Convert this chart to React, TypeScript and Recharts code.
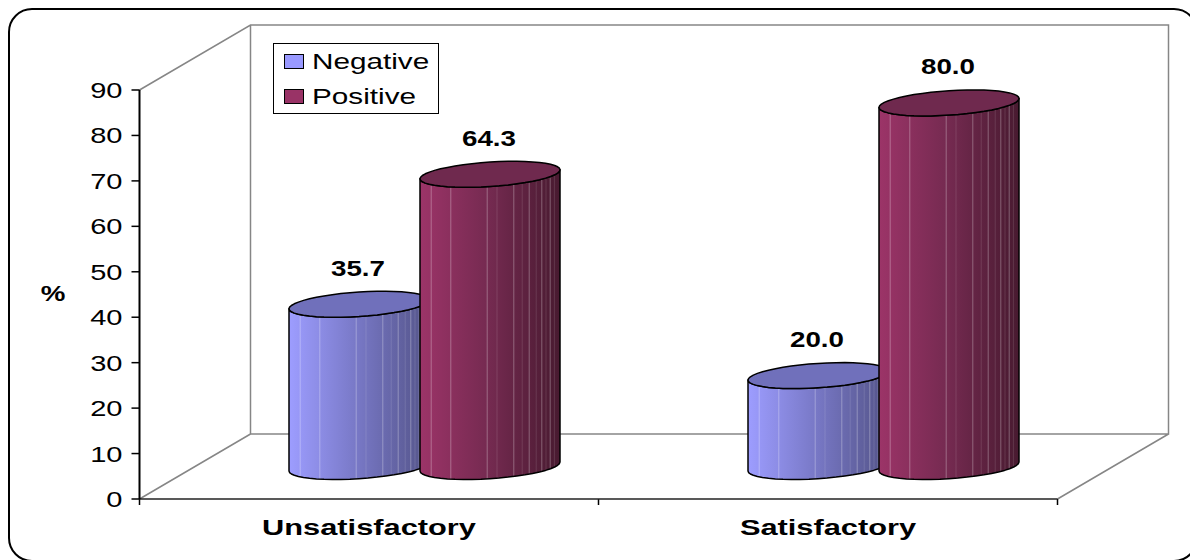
import React from 'react'
import { BarChart, Bar, XAxis, YAxis, Legend, LabelList } from 'recharts'

const categories = ['Unsatisfactory', 'Satisfactory']
const negative = [35.7, 20.0]
const positive = [64.3, 80.0]
const yTicks = [0, 10, 20, 30, 40, 50, 60, 70, 80, 90]
// light seams on the cylinder body, as fraction of its width
const seams = [0.08, 0.22, 0.48, 0.55, 0.67, 0.73, 0.78, 0.83, 0.87, 0.9, 0.93, 0.96]

const data = categories.map((name, i) => ({ name, Negative: negative[i], Positive: positive[i] }))

const W = 1190
const H = 560
const LEFT = 139.5
const RIGHT = 1057.5
const TOP = 90
const BOTTOM = 499
const DEPTH_X = 111
const DEPTH_Y = 65
const FONT = '"Liberation Sans", Arial, sans-serif'

function Stretched({ x, y, sx = 1.32, size = 22, bold = false, anchor = 'middle', children }: any) {
  return (
    <text
      transform={`translate(${x} ${y}) scale(${sx} 1)`}
      textAnchor={anchor}
      fontFamily={FONT}
      fontSize={size}
      fontWeight={bold ? 700 : 400}
      fill="#000"
    >
      {children}
    </text>
  )
}

function Walls() {
  const bx = LEFT + DEPTH_X
  const rx = RIGHT + DEPTH_X
  const ty = TOP - DEPTH_Y
  const by = BOTTOM - DEPTH_Y
  const mid = (LEFT + RIGHT) / 2
  return (
    <g fill="none">
      <path
        d={`M${LEFT} ${TOP}L${bx} ${ty}H${rx}V${by}H${bx}V${ty}M${LEFT} ${BOTTOM}L${bx} ${by}M${RIGHT} ${BOTTOM}L${rx} ${by}`}
        stroke="#868686"
        strokeWidth={1.5}
      />
      <path d={`M${LEFT} ${BOTTOM}V${BOTTOM + 6}M${mid} ${BOTTOM}V${BOTTOM + 6}M${RIGHT} ${BOTTOM}V${BOTTOM + 6}`} stroke="#000" strokeWidth={1.5} />
    </g>
  )
}

function Cylinder({ x, y, width, height, gradient, top }: any) {
  const a = width / 2
  const cx = x + a + DEPTH_X / 2
  const topY = y - DEPTH_Y / 2
  const baseY = y + height - DEPTH_Y / 2
  const k = 4.5
  const b = 12.2
  const pt = (t: number, cy: number) => [cx - a * Math.cos(t), cy + k * Math.cos(t) + b * Math.sin(t)]
  const steps = 24
  const angles = Array.from({ length: steps + 1 }, (_, i) => (i / steps) * Math.PI)
  const front = (cy: number) => angles.map((t) => pt(t, cy))
  const back = angles.map((t) => pt(t + Math.PI, topY))
  const line = (pts: number[][]) => pts.map((p) => `${p[0].toFixed(1)} ${p[1].toFixed(1)}`).join('L')
  const body = `M${line(front(topY))}L${line(front(baseY).reverse())}Z`
  const cap = `M${line(front(topY))}L${line(back)}Z`
  return (
    <g>
      <path d={body} fill={`url(#${gradient})`} />
      {seams.map((f, i) => {
        const c = 1 - 2 * f
        const t = Math.acos(c)
        const p = pt(t, topY)
        const q = pt(t, baseY)
        return <line key={f} x1={p[0]} y1={p[1]} x2={q[0]} y2={q[1]} stroke="#fff" strokeOpacity={i % 2 === 0 || i < 3 ? 0.3 : 0.12} strokeWidth={1} />
      })}
      <path d={body} fill="none" stroke="#000" strokeWidth={1.5} strokeLinejoin="round" />
      <path d={cap} fill={top} stroke="#000" strokeWidth={1.5} strokeLinejoin="round" />
    </g>
  )
}

function ValueLabel({ x, y, width, value }: any) {
  return (
    <Stretched x={x + width / 2 + DEPTH_X / 2 - 1} y={y - DEPTH_Y / 2 - 28.5} sx={1.26} bold>
      {Number(value).toFixed(1)}
    </Stretched>
  )
}

function YTick({ x, y, payload }: any) {
  return <Stretched x={x - 7} y={y + 8} anchor="end">{payload.value}</Stretched>
}

function XTick({ x, payload }: any) {
  return <Stretched x={x} y={BOTTOM + 36} sx={1.4} bold>{payload.value}</Stretched>
}

function LegendBox() {
  const row = (label: string, color: string) => (
    <div key={label} style={{ display: 'flex', alignItems: 'center', height: 35 }}>
      <span style={{ width: 18, height: 13, background: color, border: '1px solid #000', marginLeft: 10, boxSizing: 'content-box' }} />
      <span style={{ marginLeft: 8, fontFamily: FONT, fontSize: 22, color: '#000', transform: 'scaleX(1.35)', transformOrigin: 'left center', whiteSpace: 'nowrap' }}>{label}</span>
    </div>
  )
  return (
    <div style={{ width: 164, height: 69, border: '1.5px solid #000', background: '#fff', boxSizing: 'content-box' }}>
      {row('Negative', '#9999FF')}
      {row('Positive', '#993366')}
    </div>
  )
}

export default function App() {
  return (
    <div style={{ position: 'fixed', left: 0, top: 0, width: W, height: H, overflow: 'hidden', background: '#fff' }}>
      <div style={{ position: 'absolute', left: 8, top: 8, width: 1190, height: 554, border: '2px solid #000', borderRadius: 24, boxSizing: 'border-box' }} />
      <div style={{ position: 'absolute', left: 0, top: 0 }}>
        <BarChart
          width={W}
          height={H}
          data={data}
          barSize={140}
          barGap={-9}
          barCategoryGap={0}
          margin={{ left: LEFT - 60, right: W - RIGHT, top: TOP, bottom: H - BOTTOM - 1 }}
        >
          <defs>
            <linearGradient id="negBody" x1="0" y1="0" x2="1" y2="0">
              <stop offset="0" stopColor="#9D9DFF" />
              <stop offset="0.5" stopColor="#7777C4" />
              <stop offset="1" stopColor="#535388" />
            </linearGradient>
            <linearGradient id="posBody" x1="0" y1="0" x2="1" y2="0">
              <stop offset="0" stopColor="#9C3468" />
              <stop offset="0.5" stopColor="#742A50" />
              <stop offset="1" stopColor="#481A30" />
            </linearGradient>
          </defs>
          <Walls />
          <XAxis dataKey="name" height={1} axisLine={{ stroke: '#222', strokeWidth: 1.5 }} tickLine={false} tick={<XTick />} interval={0} />
          <YAxis
            width={60}
            domain={[0, 90]}
            ticks={yTicks}
            interval={0}
            axisLine={{ stroke: '#000', strokeWidth: 2 }}
            tickLine={{ stroke: '#000', strokeWidth: 1.5 }}
            tickSize={8}
            tick={<YTick />}
            label={{
              value: '%',
              content: () => <Stretched x={53} y={301} sx={1.26} bold>%</Stretched>,
            }}
          />
          <Legend
            layout="horizontal"
            align="center"
            verticalAlign="middle"
            content={<LegendBox />}
            wrapperStyle={{ position: 'absolute', left: 273, top: 43, width: 'auto', bottom: 'auto' }}
          />
          <Bar dataKey="Negative" isAnimationActive={false} shape={(p: any) => <Cylinder {...p} gradient="negBody" top="#7070BB" />}>
            <LabelList dataKey="Negative" content={<ValueLabel />} />
          </Bar>
          <Bar dataKey="Positive" isAnimationActive={false} shape={(p: any) => <Cylinder {...p} gradient="posBody" top="#6F294E" />}>
            <LabelList dataKey="Positive" content={<ValueLabel />} />
          </Bar>
        </BarChart>
      </div>
    </div>
  )
}
